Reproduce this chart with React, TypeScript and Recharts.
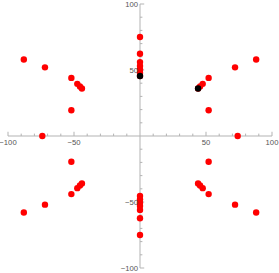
import { ScatterChart, Scatter, XAxis, YAxis, ReferenceLine, ReferenceDot } from "recharts"

// red points (x and y lists line up)
const redX = [
  88, 72, 52, 47.5, 45.5, 44, 52, 74,
  -88, -72, -52, -47.5, -45.5, -44, -52, -74,
  88, 72, 52, 47.5, 45.5, 44, 52,
  -88, -72, -52, -47.5, -45.5, -44, -52,
  0, 0, 0, 0, 0, 0, 0,
  0, 0, 0, 0, 0, 0, 0,
]
const redY = [
  58, 52, 44, 39.5, 37.5, 36, 19.5, 0,
  58, 52, 44, 39.5, 37.5, 36, 19.5, 0,
  -58, -52, -44, -39.5, -37.5, -36, -19.5,
  -58, -52, -44, -39.5, -37.5, -36, -19.5,
  75, 62.3, 56, 53, 50.5, 48, 45.5,
  -75, -62.3, -56, -53, -50.5, -48, -45.5,
]

// the two black points
const blackX = [0, 44]
const blackY = [45.5, 36]

const majorTicks = [-100, -50, 50, 100]
const minorTicks = [-90, -80, -70, -60, -40, -30, -20, -10, 10, 20, 30, 40, 60, 70, 80, 90]

const AXIS = "#b3b3b3"
const LABEL = "#555555"
const FONT = "'Liberation Sans', Arial, sans-serif"

const redData = redX.map((x, i) => ({ x, y: redY[i] }))
const blackData = blackX.map((x, i) => ({ x, y: blackY[i] }))

const fmt = (v: number) => (v < 0 ? `\u2212${Math.abs(v)}` : `${v}`)

function Dot(props: any) {
  const { cx, cy, fill } = props
  return <circle cx={cx} cy={cy} r={3.2} fill={fill} />
}

export default function App() {
  return (
    <div style={{ position: "absolute", left: 0, top: 0 }}>
      <ScatterChart width={279} height={273} margin={{ top: 4, right: 7, bottom: 5, left: 8 }}>
        <XAxis type="number" dataKey="x" domain={[-100, 100]} hide height={0} allowDataOverflow />
        <YAxis type="number" dataKey="y" domain={[-100, 100]} hide width={0} allowDataOverflow />

        {/* axes through the origin */}
        <ReferenceLine y={0} stroke={AXIS} strokeWidth={1} />
        <ReferenceLine x={0} stroke={AXIS} strokeWidth={1} />

        {minorTicks.map((t) => (
          <ReferenceLine key={`xm${t}`} segment={[{ x: t, y: 0 }, { x: t, y: 1.8 }]} stroke={AXIS} />
        ))}
        {minorTicks.map((t) => (
          <ReferenceLine key={`ym${t}`} segment={[{ x: 0, y: t }, { x: 1.8, y: t }]} stroke={AXIS} />
        ))}
        {majorTicks.map((t) => (
          <ReferenceLine key={`xM${t}`} segment={[{ x: t, y: 0 }, { x: t, y: 3.2 }]} stroke={AXIS} />
        ))}
        {majorTicks.map((t) => (
          <ReferenceLine key={`yM${t}`} segment={[{ x: 0, y: t }, { x: 3.2, y: t }]} stroke={AXIS} />
        ))}

        {majorTicks.map((t) => (
          <ReferenceDot
            key={`xl${t}`}
            x={t}
            y={0}
            r={0}
            fill="none"
            stroke="none"
            label={{ value: fmt(t), position: "bottom", offset: 4, fill: LABEL, fontSize: 7.7, fontFamily: FONT }}
          />
        ))}
        {majorTicks.map((t) => (
          <ReferenceDot
            key={`yl${t}`}
            x={0}
            y={t}
            r={0}
            fill="none"
            stroke="none"
            label={{ value: fmt(t), position: "left", offset: 2, fill: LABEL, fontSize: 7.7, fontFamily: FONT }}
          />
        ))}

        <Scatter data={redData} fill="#ff0000" shape={<Dot />} isAnimationActive={false} />
        <Scatter data={blackData} fill="#000000" shape={<Dot />} isAnimationActive={false} />
      </ScatterChart>
    </div>
  )
}
